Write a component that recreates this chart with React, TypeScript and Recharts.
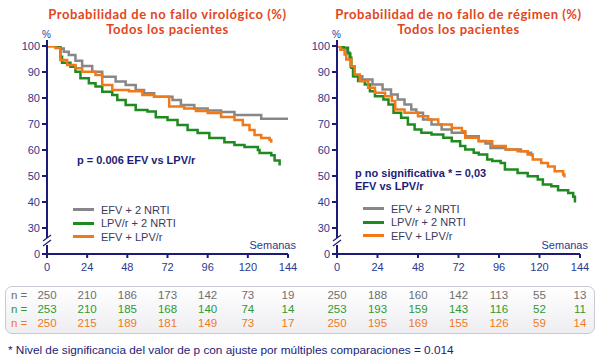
import React from 'react';
import { LineChart, Line, XAxis, YAxis } from 'recharts';

const weekTicks = [0, 24, 48, 72, 96, 120, 144];
const pctTicks = [20, 30, 40, 50, 60, 70, 80, 90, 100];

// Kaplan-Meier steps, [semana, %]
const virolEfvNrti: [number, number][] = [
  [0, 100], [8, 99], [10, 97.8], [13, 96.5], [17, 94.3], [21, 92.3], [27, 90.1], [33, 88.2],
  [41, 86.3], [47, 85], [53, 83.1], [58, 81.8], [64, 80.5], [75, 79.2], [80, 77.3], [88, 76],
  [96, 75.2], [104, 74.6], [112, 73.5], [128, 72], [144, 72],
];
const virolLpvNrti: [number, number][] = [
  [0, 100], [8, 95.9], [9, 93.6], [14, 92], [17, 90.1], [20, 87.6], [25, 85.7], [29, 84.4],
  [33, 82.4], [39, 81.2], [42, 79.2], [47, 77.3], [53, 75.4], [60, 74.8], [65, 72.6], [72, 71.5],
  [78, 69.6], [84, 67.7], [90, 66.5], [97, 64.6], [106, 63], [112, 61.9], [118, 61.2], [126, 60],
  [127, 58.8], [134, 58], [136, 56], [139, 54],
];
const virolEfvLpv: [number, number][] = [
  [0, 100], [5, 99.2], [8, 94.6], [12, 92.7], [17, 91.4], [21, 90.1], [29, 88.8], [33, 85],
  [39, 83.1], [49, 82.6], [57, 81.2], [64, 80.5], [73, 76.7], [82, 76], [89, 75], [96, 74.2],
  [104, 72.7], [112, 71.5], [117, 69.6], [121, 67.7], [124, 65.8], [128, 64.6], [133, 63.8],
  [134, 62.8],
];

const regEfvNrti: [number, number][] = [
  [0, 100], [3, 99], [6, 97], [8, 92], [10, 88.4], [15, 87.1], [21, 85.2], [27, 83.3], [32, 81.3],
  [36, 79.4], [40, 77.5], [44, 75.6], [47, 74.3], [51, 71.7], [56, 69.8], [62, 67.9], [68, 66.6],
  [76, 65.3], [84, 63.5], [88, 62.5], [91, 60.8], [100, 60.2], [109, 59.5], [113, 58.9], [115, 57.6],
];
const regLpvNrti: [number, number][] = [
  [0, 100], [4, 99.3], [6.5, 97.4], [7.5, 95.5], [8.5, 91.6], [9.5, 88.4], [12.5, 86.5],
  [16.5, 85.2], [19.5, 82.6], [22.5, 80.7], [27.5, 79.4], [30.5, 77.5], [33.5, 74.3], [38, 72.4],
  [42, 69.8], [46, 67.9], [50, 66.6], [56, 66], [63, 64.7], [68, 63.4], [73, 61.5], [76, 60.2],
  [81, 58.9], [84, 58.3], [89, 56.3], [92, 55.8], [97, 55], [99.5, 52.5], [107, 51.2], [113, 49.9],
  [119, 48.7], [122, 46.7], [127, 46.1], [131, 44.5], [137, 43.5], [140, 42], [141, 39.8],
];
const regEfvLpv: [number, number][] = [
  [0, 100], [2, 98.6], [4.5, 96.7], [5.5, 94.8], [8.5, 92.2], [10.5, 89], [13.5, 86.5],
  [18.5, 83.9], [22.5, 82], [28.5, 80.7], [32.5, 78.8], [34.5, 75.6], [40, 74.3], [48, 73],
  [54, 71.7], [60, 69.8], [68, 68.5], [74, 67.2], [76, 64.7], [84, 63.4], [92, 61.5], [100, 60.2],
  [107, 59.5], [113, 58.3], [116, 56.3], [121, 55], [125, 53.7], [129, 51.8], [134, 50.6],
  [134.8, 49.4],
];

const seriesNames = ['EFV + 2 NRTI', 'LPV/r + 2 NRTI', 'EFV + LPV/r'];
const seriesColors = ['#878787', '#1f8a1f', '#f07a1a'];

// pacientes en riesgo
const nVirol = [
  [250, 210, 186, 173, 142, 73, 19],
  [253, 210, 185, 168, 140, 74, 14],
  [250, 215, 189, 181, 149, 73, 17],
];
const nRegimen = [
  [250, 188, 160, 142, 113, 55, 13],
  [253, 193, 159, 143, 116, 52, 11],
  [250, 195, 169, 155, 126, 59, 14],
];
const nColors = ['#6e6e6e', '#2e9a2e', '#f07a1a'];

const navy = '#1c1c78';
const tickBlue = '#2b3990';
const font = '"Liberation Sans", Arial, sans-serif';

const toPts = (a: [number, number][]) => a.map(([w, v]) => ({ w, v }));

type PanelProps = {
  left: number;
  width: number;
  mRight: number;
  title: string[];
  curves: [number, number][][];
  note: string[];
  noteLeft: number;
  noteTop: number;
  legendTop: number;
};

const Panel: React.FC<PanelProps> = ({ left, width, mRight, title, curves, note, noteLeft, noteTop, legendTop }) => {
  const axisX = 47;
  const plotRight = width - mRight;
  return (
    <div style={{ position: 'absolute', left, top: 0, width, height: 290 }}>
      <div style={{ position: 'absolute', left: axisX - 10, width: plotRight - axisX + 20, top: 7, textAlign: 'center', color: '#e2461c', fontFamily: 'Lato, sans-serif', fontWeight: 700, fontSize: 13, letterSpacing: 0.55, lineHeight: '14.5px', whiteSpace: 'nowrap' }}>
        {title.map((t) => <div key={t}>{t}</div>)}
      </div>
      <LineChart width={width} height={290} margin={{ top: 46, right: mRight, bottom: 6, left: 17 }}>
        <XAxis
          dataKey="w"
          type="number"
          domain={[0, 144]}
          ticks={weekTicks}
          tickSize={4}
          tickMargin={5}
          height={30}
          stroke={navy}
          strokeWidth={2}
          tick={{ fill: tickBlue, fontSize: 11, fontFamily: font }}
          allowDataOverflow
        />
        <YAxis
          type="number"
          domain={[20, 100]}
          ticks={pctTicks}
          tickSize={5}
          width={30}
          stroke={navy}
          strokeWidth={2}
          tickFormatter={(v: number) => (v === 20 ? '0' : String(v))}
          tick={{ fill: tickBlue, fontSize: 11, fontFamily: font }}
          allowDataOverflow
        />
        {curves.map((c, i) => (
          <Line
            key={i}
            data={toPts(c)}
            dataKey="v"
            type="stepAfter"
            stroke={seriesColors[i]}
            strokeWidth={2.5}
            dot={false}
            activeDot={false}
            isAnimationActive={false}
          />
        ))}
      </LineChart>
      <svg style={{ position: 'absolute', left: 0, top: 0 }} width={width} height={290}>
        <line x1={axisX} y1={40} x2={axisX} y2={46} stroke={navy} strokeWidth={2} />
        <rect x={axisX - 2} y={238} width={4} height={7} fill="#fff" />
        <line x1={axisX - 4} y1={241} x2={axisX + 4} y2={235} stroke={navy} strokeWidth={1.2} />
        <line x1={axisX - 4} y1={246} x2={axisX + 4} y2={240} stroke={navy} strokeWidth={1.2} />
      </svg>
      <div style={{ position: 'absolute', left: axisX - 5, top: 29, fontSize: 10, color: tickBlue, fontFamily: font }}>%</div>
      <div style={{ position: 'absolute', right: width - plotRight - 8, top: 239, fontSize: 11, color: tickBlue, fontFamily: font }}>Semanas</div>
      <div style={{ position: 'absolute', left: noteLeft, top: noteTop, fontSize: 11, fontWeight: 700, color: navy, fontFamily: font, lineHeight: '13px', whiteSpace: 'nowrap' }}>
        {note.map((t) => <div key={t}>{t}</div>)}
      </div>
      <div style={{ position: 'absolute', left: 73, top: legendTop, fontFamily: font, fontSize: 11, color: '#3a3a5c' }}>
        {seriesNames.map((s, i) => (
          <div key={s} style={{ display: 'flex', alignItems: 'center', height: 13.5 }}>
            <span style={{ width: 21, height: 3, background: seriesColors[i], marginRight: 7 }} />
            {s}
          </div>
        ))}
      </div>
    </div>
  );
};

const colX = (start: number, span: number) => weekTicks.map((w) => start + (w / 144) * span);

const App: React.FC = () => {
  const leftCols = colX(47, 241);
  const rightCols = colX(337, 243);
  return (
    <div style={{ position: 'absolute', left: 0, top: 0, width: 600, height: 364, background: '#fff', fontFamily: font }}>
      <Panel
        left={0}
        width={300}
        mRight={12}
        title={['Probabilidad de no fallo virológico (%)', 'Todos los pacientes']}
        curves={[virolEfvNrti, virolLpvNrti, virolEfvLpv]}
        note={['p = 0.006 EFV vs LPV/r']}
        noteLeft={77}
        noteTop={154}
        legendTop={203}
      />
      <Panel
        left={290}
        width={300}
        mRight={10}
        title={['Probabilidad de no fallo de régimen (%)', 'Todos los pacientes']}
        curves={[regEfvNrti, regLpvNrti, regEfvLpv]}
        note={['p no significativa * = 0,03', 'EFV vs LPV/r']}
        noteLeft={65}
        noteTop={167}
        legendTop={202}
      />
      <div style={{ position: 'absolute', left: 5, top: 286, width: 590, height: 48, boxSizing: 'border-box', border: '1.5px solid #c9c9d3', borderRadius: 7, background: 'linear-gradient(#ffffff, #eeeef2)' }} />
      {[nVirol, nRegimen].map((tbl, t) =>
        tbl.map((row, r) =>
          row.map((n, c) => (
            <div key={`${t}-${r}-${c}`} style={{ position: 'absolute', left: (t ? rightCols : leftCols)[c] - 20, width: 40, textAlign: 'center', top: 288.5 + r * 14, fontSize: 11.5, color: nColors[r], lineHeight: '13px' }}>
              {n}
            </div>
          ))
        )
      )}
      {nColors.map((c, r) => (
        <div key={c} style={{ position: 'absolute', left: 11, top: 288.5 + r * 14, fontSize: 11.5, color: c, lineHeight: '13px' }}>n =</div>
      ))}
      <div style={{ position: 'absolute', left: 8, top: 343, fontSize: 11.8, color: navy, whiteSpace: 'nowrap' }}>
        * Nivel de significancia del valor de p con ajuste por múltiples comparaciones = 0.014
      </div>
    </div>
  );
};

export default App;
